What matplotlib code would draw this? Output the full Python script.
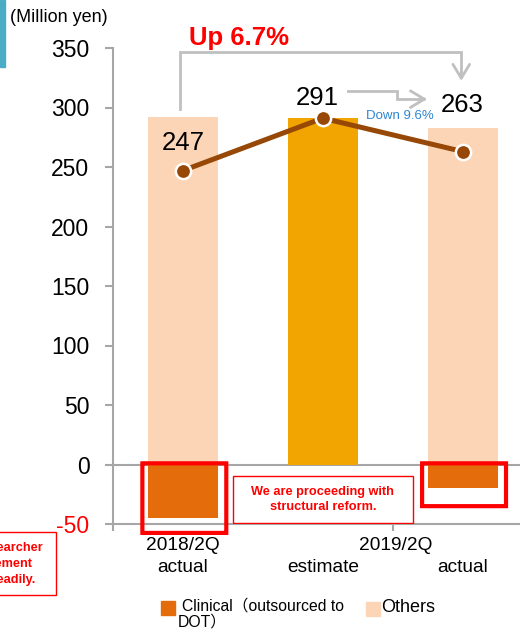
import matplotlib.pyplot as plt
from matplotlib.patches import Rectangle, FancyBboxPatch

plt.rcParams['font.family'] = ['Liberation Sans', 'Noto Sans CJK JP', 'DejaVu Sans']

# values (million yen)
periods = ['2018/2Q actual', '2019/2Q estimate', '2019/2Q actual']
others = [292, 0, 283]
estimate = [0, 291, 0]
clinical = [-45, 0, -20]
totals = [247, 291, 263]
up_label = 'Up 6.7%'
down_label = 'Down 9.6%'
yticks = [-50, 0, 50, 100, 150, 200, 250, 300, 350]

c_others = '#FBD5B5'
c_est = '#F2A500'
c_clin = '#E46C0A'
c_line = '#974706'
c_gray = '#A6A6A6'
c_arrow = '#C0C0C0'
red = '#FF0000'

W, H = 520, 630
fig = plt.figure(figsize=(W / 100, H / 100), dpi=100)
ax = fig.add_axes([113 / W, (H - 524) / H, 1 - 113 / W, (524 - 48) / H])

x = list(range(len(periods)))
bw = 0.5
ax.bar(x, others, bw, color=c_others, zorder=2)
ax.bar(x, estimate, bw, color=c_est, zorder=2)
ax.bar(x, clinical, bw, color=c_clin, zorder=2)

ax.plot(x, totals, color=c_line, lw=3.6, zorder=4)
ax.plot(x, totals, 'o', ms=11, mfc=c_line, mec='white', mew=1.8, zorder=5)

ax.set_xlim(-0.5, 2.41)
ax.set_ylim(-50, 350)
ax.set_yticks(yticks)
ax.set_yticklabels([str(v) for v in yticks], fontsize=16.5)
ax.get_yticklabels()[0].set_color(red)
ax.tick_params(axis='y', length=6, width=1.5, color=c_gray, pad=11)
ax.set_xticks([-0.5, 1.5])
ax.set_xticklabels([])
ax.tick_params(axis='x', length=5, width=1.5, color=c_gray)
for s in ['top', 'right']:
    ax.spines[s].set_visible(False)
for s in ['left', 'bottom']:
    ax.spines[s].set_color(c_gray)
    ax.spines[s].set_linewidth(1.5)
ax.axhline(0, color=c_gray, lw=1.5, zorder=1)

# value labels
ax.text(0, 270, str(totals[0]), ha='center', va='center', fontsize=18.5)
ax.text(0.96, 308, str(totals[1]), ha='center', va='center', fontsize=18.5)
ax.text(2, 302, str(totals[2]), ha='center', va='center', fontsize=18.5)

# comparison arrows
ax.plot([-0.02, -0.02, 1.99, 1.99], [299, 347, 347, 330], color=c_arrow, lw=2,
        clip_on=False, solid_joinstyle='miter')
ax.annotate('', xy=(1.99, 320), xytext=(1.99, 332),
            arrowprops=dict(arrowstyle='->,head_length=0.5,head_width=0.3',
                            color=c_arrow, lw=2, mutation_scale=20))
ax.text(0.4, 358, up_label, ha='center', va='center', fontsize=18.5,
        fontweight='bold', color=red, clip_on=False)

ax.plot([1.18, 1.53, 1.53, 1.70], [314, 314, 307, 307], color=c_arrow, lw=2,
        solid_joinstyle='miter')
ax.annotate('', xy=(1.765, 307), xytext=(1.69, 307),
            arrowprops=dict(arrowstyle='->,head_length=0.5,head_width=0.3',
                            color=c_arrow, lw=2, mutation_scale=20))
ax.text(1.55, 293, down_label, ha='center', va='center', fontsize=9.5, color='#2E86D1')

# red highlight frames around clinical bars
for xi, bot, top in [(0, -57.5, 1), (2, -35, 1)]:
    ax.add_patch(FancyBboxPatch((xi - 0.29, bot), 0.6, top - bot,
                                boxstyle='round,pad=0,rounding_size=0.02',
                                fill=False, ec=red, lw=3, clip_on=False, zorder=6))

# comment box between the bars
ax.add_patch(Rectangle((0.357, -49.5), 1.286, 39.5, fc='white', ec=red, lw=1, zorder=6))
ax.text(1.0, -29.5, 'We are proceeding with\nstructural reform.', ha='center', va='center',
        fontsize=9.2, fontweight='bold', color=red, linespacing=1.25, zorder=7)

# category labels
for xi, yy, s in [(0, -68, '2018/2Q'), (0, -86.5, 'actual'), (1.52, -68, '2019/2Q'),
                  (1.0, -86.5, 'estimate'), (2.0, -86.5, 'actual')]:
    ax.text(xi, yy, s, ha='center', va='center', fontsize=13.8, clip_on=False)

# side note box, cut by the left edge of the figure
fig.patches.append(Rectangle((-200 / W, 1 - 595 / H), 256 / W, 63 / H, transform=fig.transFigure,
                             fc='white', ec=red, lw=1, figure=fig))
for xr, yc, s in [(43, 548, 'Number of researcher'), (32, 564, 'improvement'),
                  (35, 580, 'is growing steadily.')]:
    fig.text(xr / W, 1 - yc / H, s, ha='right', va='center', fontsize=9.2,
             fontweight='bold', color=red)

# unit and side marker
fig.text(10 / W, 1 - 18 / H, '(Million yen)', ha='left', va='center', fontsize=13)
fig.patches.append(Rectangle((0, 1 - 67 / H), 5 / W, 67 / H, transform=fig.transFigure,
                             color='#4BACC6', figure=fig))

# legend
fig.patches.append(Rectangle((161 / W, 1 - 615 / H), 14 / W, 14 / H, transform=fig.transFigure,
                             color=c_clin, figure=fig))
fig.text(182 / W, 1 - 606 / H, 'Clinical（outsourced to', ha='left', va='center', fontsize=11.3)
fig.text(178 / W, 1 - 622 / H, 'DOT）', ha='left', va='center', fontsize=11.3)
fig.patches.append(Rectangle((366 / W, 1 - 616 / H), 14 / W, 14 / H, transform=fig.transFigure,
                             color=c_others, figure=fig))
fig.text(381 / W, 1 - 607 / H, 'Others', ha='left', va='center', fontsize=13)

fig.savefig('out.png', dpi=100)
